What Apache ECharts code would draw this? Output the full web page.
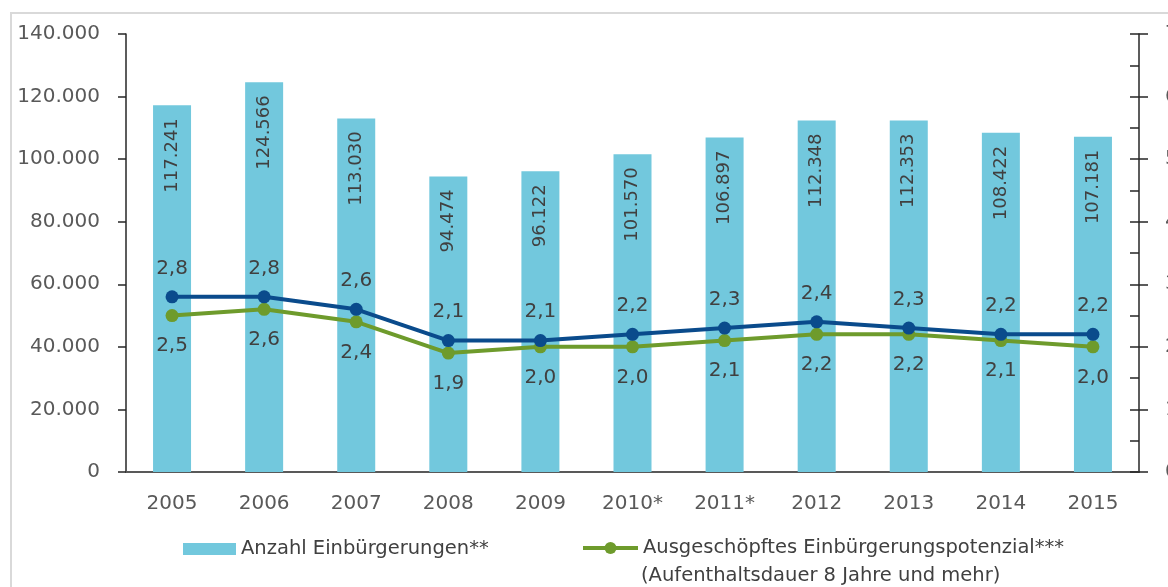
<!DOCTYPE html>
<html>
<head>
<meta charset="utf-8">
<script src="https://cdn.jsdelivr.net/npm/echarts@6/dist/echarts.min.js"></script>
<style>
  html, body { margin: 0; padding: 0; background: #ffffff; }
  #chart { width: 1168px; height: 587px; }
</style>
</head>
<body>
<div id="chart"></div>
<script>
// Years on the category axis
const years = ['2005', '2006', '2007', '2008', '2009', '2010*', '2011*', '2012', '2013', '2014', '2015'];
// Number of naturalisations (left axis)
const einbuergerungen = [117241, 124566, 113030, 94474, 96122, 101570, 106897, 112348, 112353, 108422, 107181];
// Exhausted naturalisation potential in % (right axis), 10+ years of residence
const potenzial10 = [2.8, 2.8, 2.6, 2.1, 2.1, 2.2, 2.3, 2.4, 2.3, 2.2, 2.2];
// Exhausted naturalisation potential in % (right axis), 8+ years of residence
const potenzial8 = [2.5, 2.6, 2.4, 1.9, 2.0, 2.0, 2.1, 2.2, 2.2, 2.1, 2.0];

const barName = 'Anzahl Einbürgerungen**';
const greenName = 'Ausgeschöpftes Einbürgerungspotenzial***';
const greenNameLine2 = '(Aufenthaltsdauer 8 Jahre und mehr)';
const blueName = 'Ausgeschöpftes Einbürgerungspotenzial (Aufenthaltsdauer 10 Jahre und mehr)';

const FONT = "'DejaVu Sans', Verdana, sans-serif";
const TXT = '#404040';
const AXT = '#595959';
const BAR = '#72c8dd';
const BLUE = '#0a4b8c';
const GREEN = '#6e9b2c';

function thousands(v) {
  return String(v).replace(/\B(?=(\d{3})+(?!\d))/g, '.');
}
function comma1(v) {
  return v.toFixed(1).replace('.', ',');
}

const chart = echarts.init(document.getElementById('chart'), null, { renderer: 'canvas' });

chart.setOption({
  backgroundColor: '#ffffff',
  animation: false,
  textStyle: { fontFamily: FONT },
  grid: { left: 126, right: 29, top: 34, bottom: 115, containLabel: false, outerBoundsMode: 'none' },
  graphic: [
    {
      type: 'rect', z: -10, silent: true,
      shape: { x: 11, y: 13, width: 1400, height: 800 },
      style: { fill: 'none', stroke: '#d9d9d9', lineWidth: 2 }
    },
    {
      type: 'text', left: 641, top: 566,
      style: { text: greenNameLine2, font: '19.5px ' + FONT, fill: TXT }
    }
  ],
  legend: [
    {
      left: 178, top: 534,
      itemWidth: 53, itemHeight: 12,
      data: [{ name: barName, icon: 'rect' }],
      textStyle: { fontFamily: FONT, fontSize: 19.5, color: TXT }
    },
    {
      left: 576, top: 533,
      itemWidth: 55, itemHeight: 15,
      data: [greenName],
      lineStyle: { width: 4, color: GREEN },
      itemStyle: { color: GREEN },
      textStyle: { fontFamily: FONT, fontSize: 19.5, color: TXT }
    }
  ],
  xAxis: {
    type: 'category',
    data: years,
    boundaryGap: true,
    axisLine: { show: true, lineStyle: { color: '#595959', width: 2 } },
    axisTick: { show: false },
    axisLabel: { fontFamily: FONT, fontSize: 20, color: AXT, margin: 22 },
    splitLine: { show: false }
  },
  yAxis: [
    {
      type: 'value', min: 0, max: 140000, interval: 20000, position: 'left',
      axisLine: { show: true, lineStyle: { color: '#262626', width: 1.5 } },
      axisTick: { show: true, length: 8, lineStyle: { color: '#262626', width: 1.5 } },
      axisLabel: { fontFamily: FONT, fontSize: 20, color: AXT, margin: 26, formatter: thousands },
      splitLine: { show: false }
    },
    {
      type: 'value', min: 0, max: 7, interval: 1, position: 'right',
      axisLine: { show: true, lineStyle: { color: '#262626', width: 1.5 } },
      axisTick: { show: true, length: 9, lineStyle: { color: '#262626', width: 1.5 } },
      axisLabel: { fontFamily: FONT, fontSize: 20, color: AXT, margin: 26 },
      splitLine: { show: false }
    },
    {
      type: 'value', min: 0, max: 7, interval: 1, position: 'right',
      axisLine: { show: false },
      axisTick: { show: true, inside: true, length: 9, lineStyle: { color: '#262626', width: 1.5 } },
      minorTick: { show: true, splitNumber: 2, length: 9, lineStyle: { color: '#262626', width: 1.5 } },
      axisLabel: { show: false },
      splitLine: { show: false }
    }
  ],
  series: [
    {
      name: barName,
      type: 'bar',
      yAxisIndex: 0,
      data: einbuergerungen,
      barWidth: 38,
      itemStyle: { color: BAR },
      label: {
        show: true,
        position: 'insideTop',
        distance: 13,
        rotate: 90,
        align: 'right',
        verticalAlign: 'middle',
        fontFamily: FONT, fontSize: 18, color: TXT,
        formatter: p => thousands(p.value)
      },
      z: 1
    },
    {
      name: blueName,
      type: 'line',
      yAxisIndex: 1,
      data: potenzial10,
      symbol: 'circle', symbolSize: 13,
      lineStyle: { color: BLUE, width: 4 },
      itemStyle: { color: BLUE },
      label: {
        show: true, position: 'top', distance: 12,
        fontFamily: FONT, fontSize: 20, color: TXT,
        formatter: p => comma1(p.value)
      },
      z: 4
    },
    {
      name: greenName,
      type: 'line',
      yAxisIndex: 1,
      data: potenzial8,
      symbol: 'circle', symbolSize: 13,
      lineStyle: { color: GREEN, width: 4 },
      itemStyle: { color: GREEN },
      label: {
        show: true, position: 'bottom', distance: 14,
        fontFamily: FONT, fontSize: 20, color: TXT,
        formatter: p => comma1(p.value)
      },
      z: 3
    }
  ]
});
</script>
</body>
</html>
